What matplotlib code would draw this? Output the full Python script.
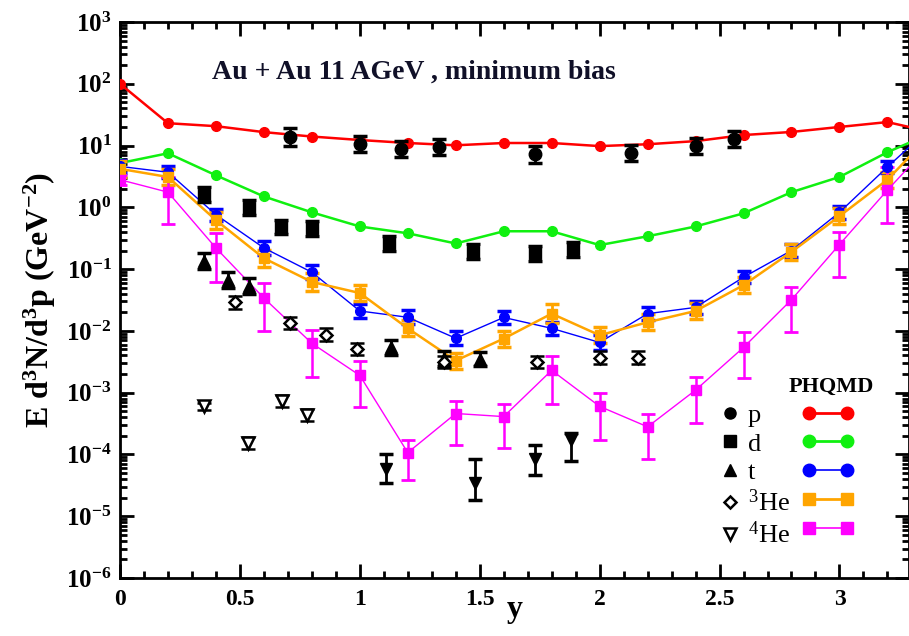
import matplotlib
matplotlib.use("Agg")
import matplotlib.pyplot as plt
import numpy as np
from matplotlib.lines import Line2D
from matplotlib.legend_handler import HandlerLine2D
from matplotlib.ticker import FixedLocator, FuncFormatter, MultipleLocator, NullFormatter

plt.rcParams['font.family'] = ['Liberation Serif', 'DejaVu Serif']
plt.rcParams['font.weight'] = 'bold'
plt.rcParams['mathtext.fontset'] = 'custom'
plt.rcParams['mathtext.rm'] = 'Liberation Serif:bold'
plt.rcParams['mathtext.bf'] = 'Liberation Serif:bold'
plt.rcParams['mathtext.it'] = 'Liberation Serif:bold:italic'

# ---------------- PHQMD model curves ----------------
y_model = [0.0, 0.2, 0.4, 0.6, 0.8, 1.0, 1.2, 1.4, 1.6, 1.8, 2.0, 2.2, 2.4, 2.6, 2.8, 3.0, 3.2, 3.4]
p_model = [100, 23, 20.6, 16.5, 14, 12.3, 11, 10.1, 11, 11, 9.8, 10.5, 11.8, 14.8, 16.6, 20, 24, 16]
d_model = [5.2, 7.5, 3.3, 1.5, 0.83, 0.49, 0.38, 0.26, 0.41, 0.41, 0.245, 0.34, 0.49, 0.8, 1.76, 3.1, 7.8, 17]
t_model = [4.6, 3.7, 0.76, 0.22, 0.089, 0.021, 0.0166, 0.0076, 0.0165, 0.011, 0.0065, 0.019, 0.024, 0.074, 0.2, 0.83, 4.5, 23]
t_model_err = [0.10, 0.10, 0.10, 0.11, 0.11, 0.12, 0.11, 0.11, 0.11, 0.11, 0.12, 0.10, 0.10, 0.10, 0.10, 0.10, 0.10, 0.10]
he3_model = [4.2, 3.1, 0.62, 0.15, 0.062, 0.041, 0.011, 0.0033, 0.0075, 0.019, 0.0085, 0.0138, 0.021, 0.055, 0.19, 0.72, 2.8, 18]
he3_model_err = [0.13, 0.13, 0.14, 0.14, 0.14, 0.13, 0.13, 0.13, 0.13, 0.15, 0.13, 0.13, 0.13, 0.13, 0.13, 0.13, 0.13, 0.13]
he4_model = [2.8, 1.76, 0.22, 0.034, 0.0063, 0.0019, 1.07e-4, 4.6e-4, 4.1e-4, 0.0023, 6e-4, 2.8e-4, 0.0011, 0.0054, 0.032, 0.25, 1.9, 13]
he4_model_hi = [3.4, 3.1, 0.38, 0.059, 0.0104, 0.0032, 1.7e-4, 7.4e-4, 6.6e-4, 0.0039, 0.001, 4.6e-4, 0.0018, 0.0095, 0.051, 0.40, 4.5, 20]
he4_model_lo = [2.3, 0.54, 0.063, 0.010, 0.0018, 5.8e-4, 3.8e-5, 1.4e-4, 1.25e-4, 6.6e-4, 1.7e-4, 8.5e-5, 3.2e-4, 0.0017, 0.0095, 0.074, 0.55, 8]

# ---------------- experimental data ----------------
p_x = [0.71, 1.0, 1.17, 1.33, 1.73, 2.13, 2.40, 2.56]
p_y = [13.8, 10.5, 8.7, 9.4, 7.2, 7.5, 10.0, 12.6]
p_err = [0.14, 0.13, 0.13, 0.13, 0.14, 0.13, 0.13, 0.13]
d_x = [0.35, 0.54, 0.67, 0.80, 1.12, 1.47, 1.73, 1.89]
d_y = [1.6, 0.98, 0.48, 0.46, 0.26, 0.19, 0.18, 0.21]
d_err = [0.12, 0.12, 0.12, 0.12, 0.12, 0.12, 0.12, 0.12]
t_x = [0.35, 0.45, 0.54, 1.13, 1.35, 1.50]
t_y = [0.137, 0.066, 0.053, 0.0054, 0.0036, 0.0035]
t_err = [0.13, 0.13, 0.13, 0.12, 0.12, 0.12]
he3_x = [0.48, 0.71, 0.86, 0.99, 1.35, 1.74, 2.0, 2.16]
he3_y = [0.029, 0.0133, 0.0087, 0.0051, 0.0031, 0.0031, 0.0037, 0.0037]
he3_err = [0.10, 0.10, 0.10, 0.10, 0.10, 0.10, 0.10, 0.10]
he4a_x = [0.35, 0.535, 0.675, 0.78]
he4a_y = [6.0e-4, 1.55e-4, 7.4e-4, 4.3e-4]
he4a_err = [0.06, 0.10, 0.10, 0.10]
he4b_x = [1.11, 1.48, 1.73, 1.88]
he4b_y = [5.9e-5, 3.5e-5, 8.3e-5, 1.7e-4]
he4b_hi = [1.0e-4, 8.5e-5, 1.4e-4, 2.26e-4]
he4b_lo = [3.4e-5, 1.8e-5, 4.6e-5, 7.9e-5]

y_decades = [-6, -5, -4, -3, -2, -1, 0, 1, 2, 3]
title_text = "Au + Au 11 AGeV , minimum bias"
legend_labels = ["p", "d", "t", r"$^{\mathregular{3}}$He", r"$^{\mathregular{4}}$He"]

RED, GREEN, BLUE, ORANGE, MAGENTA = '#ff0000', '#10f010', '#0000ff', '#ffa500', '#ff00ff'

# ---------------- figure ----------------
fig = plt.figure(figsize=(9.09, 6.36), dpi=100)
ax = fig.add_axes([0.132, 0.0912, 0.868, 0.8742])
ax.set_yscale('log')
ax.set_xlim(0, 3.29)
ax.set_ylim(1e-6, 1e3)

def dex_err(vals, dex):
    v = np.array(vals, float); d = np.array(dex, float)
    return np.vstack([v - v / 10**d, v * 10**d - v])

xm = np.array(y_model)
# model lines
ax.plot(xm, p_model, '-o', color=RED, lw=1.8, ms=7, zorder=3)
ax.plot(xm, d_model, '-o', color=GREEN, lw=1.8, ms=7, zorder=3)
ax.errorbar(xm, t_model, yerr=dex_err(t_model, t_model_err), fmt='-o', color=BLUE,
            lw=1.0, ms=7, capsize=5, elinewidth=2, capthick=2.5, zorder=4)
ax.errorbar(xm, he3_model, yerr=dex_err(he3_model, he3_model_err), fmt='-s', color=ORANGE,
            lw=1.8, ms=7, capsize=5, elinewidth=2, capthick=2.5, zorder=4)
h4 = np.array(he4_model); h4yerr = np.vstack([h4 - np.array(he4_model_lo), np.array(he4_model_hi) - h4])
ax.errorbar(xm, he4_model, yerr=h4yerr, fmt='-s', color=MAGENTA,
            lw=1.0, ms=7, capsize=5, elinewidth=1.8, capthick=2, zorder=4)

# experimental
ekw = dict(color='black', capsize=5, elinewidth=2, capthick=2.5, ls='none', zorder=5)
ax.errorbar(p_x, p_y, yerr=dex_err(p_y, p_err), fmt='o', ms=9, **ekw)
ax.errorbar(d_x, d_y, yerr=dex_err(d_y, d_err), fmt='s', ms=8, **ekw)
ax.errorbar(t_x, t_y, yerr=dex_err(t_y, t_err), fmt='^', ms=8, **ekw)
ax.errorbar(he3_x, he3_y, yerr=dex_err(he3_y, he3_err), fmt='D', ms=6, mfc='white', mew=1.8, **ekw)
ax.errorbar(he4a_x, he4a_y, yerr=dex_err(he4a_y, he4a_err), fmt='v', ms=8, mfc='white', mew=1.8, **ekw)
hb = np.array(he4b_y)
ax.errorbar(he4b_x, he4b_y, yerr=np.vstack([hb - np.array(he4b_lo), np.array(he4b_hi) - hb]),
            fmt='v', ms=9, **ekw)

# ticks
major_y = [10.0 ** e for e in y_decades]
minor_y = [m * 10.0 ** e for e in y_decades[:-1] for m in range(2, 10)]
ax.xaxis.set_major_locator(MultipleLocator(0.5))
ax.xaxis.set_minor_locator(MultipleLocator(0.1))
ax.yaxis.set_major_locator(FixedLocator(major_y))
ax.yaxis.set_minor_locator(FixedLocator(minor_y))
ax.yaxis.set_minor_formatter(NullFormatter())
ax.yaxis.set_major_formatter(FuncFormatter(lambda v, p: r'$10^{%d}$' % int(round(np.log10(v)))))
ax.xaxis.set_major_formatter(FuncFormatter(lambda v, p: ('%g' % v)))
ax.tick_params(which='both', direction='in', top=True, right=True, width=2)
ax.tick_params(which='major', length=10)
ax.tick_params(which='minor', length=5)
ax.tick_params(axis='y', which='major', labelsize=18, pad=6)
ax.tick_params(axis='x', which='major', labelsize=17, pad=8)
for s in ax.spines.values():
    s.set_linewidth(2)

ax.set_xlabel('y', fontsize=23, fontweight='bold', labelpad=-11)
ax.set_ylabel(r'E d$^{3}$N/d$^{3}$p (GeV$^{-2}$)', fontsize=23, fontweight='bold', labelpad=6)

ax.text(0.117, 0.91, title_text, transform=ax.transAxes, fontsize=20, fontweight='bold',
        ha='left', va='center', color='#101028')
ax.text(0.902, 0.343, "PHQMD", transform=ax.transAxes, fontsize=16, fontweight='bold',
        ha='center', va='center')

# legend
exp_handles = [
    Line2D([], [], ls='none', marker='o', color='black', ms=8),
    Line2D([], [], ls='none', marker='s', color='black', ms=8),
    Line2D([], [], ls='none', marker='^', color='black', ms=8),
    Line2D([], [], ls='none', marker='D', color='black', mfc='white', ms=6, mew=1.8),
    Line2D([], [], ls='none', marker='v', color='black', mfc='white', ms=8, mew=1.8),
]
mod_handles = [
    Line2D([], [], ls='-', marker='o', color=RED, lw=2, ms=9),
    Line2D([], [], ls='-', marker='o', color=GREEN, lw=2, ms=9),
    Line2D([], [], ls='-', marker='o', color=BLUE, lw=1.2, ms=9),
    Line2D([], [], ls='-', marker='s', color=ORANGE, lw=2, ms=9),
    Line2D([], [], ls='-', marker='s', color=MAGENTA, lw=1.2, ms=9),
]
hmap = {h: HandlerLine2D(numpoints=1) for h in exp_handles}
hmap.update({h: HandlerLine2D(numpoints=2) for h in mod_handles})
leg = ax.legend(exp_handles + mod_handles, legend_labels + [''] * 5, ncol=2,
                handler_map=hmap, loc='upper left', bbox_to_anchor=(0.739, 0.314),
                frameon=False, prop={'family': 'Liberation Serif', 'weight': 'normal', 'size': 19},
                handlelength=2.04, handletextpad=-0.34, borderpad=0,
                columnspacing=0.42, labelspacing=0.2, borderaxespad=0)

fig.savefig('out.png', dpi=100)
